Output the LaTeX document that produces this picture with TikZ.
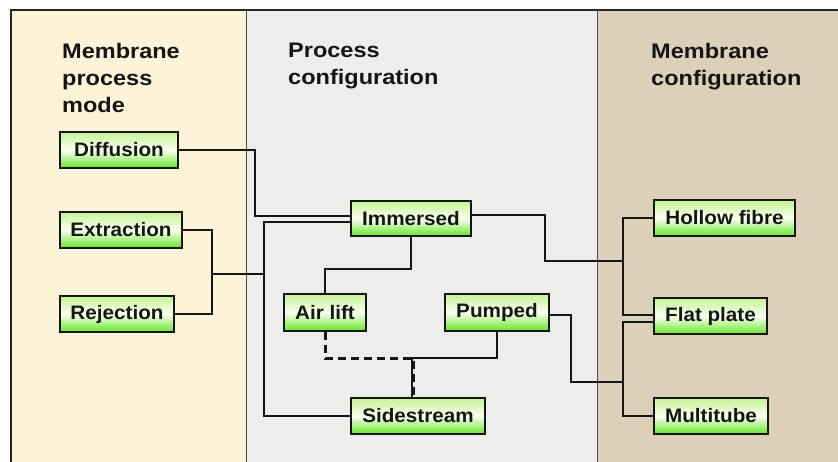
\documentclass[tikz,border=0pt]{standalone}
\usepackage{fontspec}
\setmainfont{Liberation Sans}
\newfontfamily\hdrfont[FakeStretch=1.12]{Liberation Sans}
\newfontfamily\boxfont[FakeStretch=1.06]{Liberation Sans}
\definecolor{leftbg}{HTML}{FDF3D8}
\definecolor{midbg}{HTML}{EDEDEB}
\definecolor{rightbg}{HTML}{DDD0B8}
\definecolor{boxtop}{HTML}{C4F494}
\definecolor{boxmid}{HTML}{FAFFF0}
\definecolor{boxbot}{HTML}{66E626}
\definecolor{ink}{HTML}{151515}
\begin{document}
\begin{tikzpicture}[x=1pt,y=-1pt,
  sepline/.style={draw=black!70,line width=1pt},
  heading/.style={anchor=north west,inner sep=0pt,align=left,
    font=\hdrfont\bfseries\fontsize{21}{27}\selectfont,text=ink},
  box/.style={draw=ink,line width=2pt,top color=boxtop,bottom color=boxbot,
    middle color=boxmid,inner sep=0pt,
    font=\boxfont\bfseries\fontsize{19.5}{22}\selectfont,text=ink},
  conn/.style={draw=ink,line width=2pt},
  dconn/.style={draw=ink,line width=3pt,dash pattern=on 8pt off 5pt}]
\useasboundingbox (0,0) rectangle (838,462);
% panels
\fill[leftbg] (11,10) rectangle (246,462);
\fill[midbg] (246,10) rectangle (597,462);
\fill[rightbg] (597,10) rectangle (838,462);
\draw[black!85,line width=1.4pt] (838,10) -- (11,10) -- (11,462);
\draw[sepline] (246.5,10) -- (246.5,462);
\draw[sepline] (597.5,10) -- (597.5,462);
% headings
\node[heading] (h1) at (62,43) {Membrane\\process\\mode};
\node[heading] (h2) at (288,43) {Process\\configuration};
\node[heading] (h3) at (651,43) {Membrane\\configuration};
% boxes
\node[box,minimum width=118pt,minimum height=36pt] (dif) at (119,150) {Diffusion};
\node[box,minimum width=122pt,minimum height=36pt] (ext) at (121,230) {Extraction};
\node[box,minimum width=114pt,minimum height=36pt] (rej) at (117,314) {Rejection};
\node[box,minimum width=120pt,minimum height=35pt] (imm) at (411,218.5) {Immersed};
\node[box,minimum width=82pt,minimum height=37pt] (air) at (325,312.5) {Air lift};
\node[box,minimum width=104pt,minimum height=37pt] (pump) at (497,312.5) {Pumped};
\node[box,minimum width=134pt,minimum height=36pt] (side) at (418,416) {Sidestream};
\node[box,minimum width=141pt,minimum height=36pt] (hol) at (724.5,218) {Hollow fibre};
\node[box,minimum width=113pt,minimum height=36pt] (flat) at (710.5,316) {Flat plate};
\node[box,minimum width=114pt,minimum height=36pt] (multi) at (711,416) {Multitube};
% junction coordinates
\coordinate (jL) at (212,274);
\coordinate (jM) at (264,274);
\coordinate (jS) at (412,358);
\coordinate (jR1) at (623,261);
\coordinate (jR2) at (623,382);
% connectors left
\draw[conn] (dif.east) -- ++(76,0) |- ([yshift=2.5pt]imm.west);
\draw[conn] (ext.east) -| (jL) |- (rej.east);
\draw[conn] (jL) -- (jM);
\draw[conn] ([yshift=-3.5pt]imm.west) -| (jM) |- (side.west);
% middle
\draw[conn] (imm.south) -- ++(0,32) -| (air.north);
\draw[conn] ([xshift=-6pt]side.north) -- (jS) -| (pump.south);
\draw[dconn] (air.south) |- ([xshift=1.5pt]jS) -- ([xshift=-4.5pt]side.north);
% right
\draw[conn] ([yshift=3.5pt]imm.east) -- ++(73,0) |- (jR1);
\draw[conn] (hol.west) -| (jR1) |- ([yshift=1pt]flat.west);
\draw[conn] ([yshift=-2.5pt]pump.east) -- ++(21,0) |- (jR2);
\draw[conn] ([yshift=-6pt]flat.west) -| (jR2) |- (multi.west);
\end{tikzpicture}
\end{document}
